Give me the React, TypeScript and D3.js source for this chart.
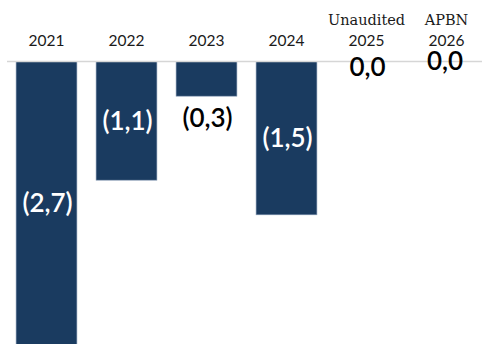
import React from "react";
import * as d3 from "d3";

const categories = ["2021", "2022", "2023", "2024", "2025", "2026"];
const categoryPrefix = ["", "", "", "", "Unaudited", "APBN"];
const values = [-2.7, -1.13, -0.33, -1.46, 0, 0];
const valueLabels = ["(2,7)", "(1,1)", "(0,3)", "(1,5)", "0,0", "0,0"];

const W = 482;
const H = 344;
const BAR = "#1a3b60";

export default function App() {
  const x = d3
    .scaleBand<string>()
    .domain(categories)
    .range([6.5, 486.5])
    .paddingInner(0.24)
    .paddingOuter(0.12);
  const y = d3.scaleLinear().domain([0, -1]).range([61.5, 166.5]);
  const bw = x.bandwidth();

  return (
    <svg
      width={W}
      height={H}
      style={{ position: "absolute", left: 0, top: 0, background: "#fff" }}
    >
      {categories.map((c, i) => {
        const v = values[i];
        const x0 = x(c)!;
        const top = Math.min(y(0), y(v));
        const h = Math.abs(y(v) - y(0));
        return h > 0 ? (
          <rect
            key={c}
            x={x0}
            y={top}
            width={bw}
            height={h}
            fill={BAR}
            stroke="#7f95b0"
            strokeWidth={0.6}
          />
        ) : null;
      })}
      <line x1={7} x2={W} y1={y(0)} y2={y(0)} stroke="#d6d6d6" strokeWidth={1.5} />
      {categories.map((c, i) => {
        const cx = x(c)! + bw / 2;
        return (
          <g key={"l" + c}>
            {categoryPrefix[i] && (
              <text
                x={cx}
                y={25}
                textAnchor="middle"
                fontFamily="'DejaVu Serif', serif"
                fontSize={14.5}
                fill="#1a1a1a"
              >
                {categoryPrefix[i]}
              </text>
            )}
            <text
              x={cx}
              y={46}
              textAnchor="middle"
              fontFamily="Lato, sans-serif"
              fontSize={15.5}
              fill="#1a1a1a"
            >
              {c}
            </text>
          </g>
        );
      })}
      {categories.map((c, i) => {
        const v = values[i];
        const cx = x(c)! + bw / 2;
        const h = Math.abs(y(v) - y(0));
        let ly: number;
        let fill: string;
        if (h > 40) {
          ly = (y(0) + y(v)) / 2 + 9;
          fill = "#ffffff";
        } else if (h > 0) {
          ly = y(v) + 31;
          fill = "#000000";
        } else {
          ly = i === 5 ? 70 : 76;
          fill = "#000000";
        }
        return (
          <text
            key={"v" + c}
            x={i === 5 ? cx - 1.5 : cx + 1}
            y={ly}
            textAnchor="middle"
            fontFamily="Lato, sans-serif"
            fontWeight={600}
            fontSize={26}
            fill={fill}
          >
            {valueLabels[i]}
          </text>
        );
      })}
    </svg>
  );
}
